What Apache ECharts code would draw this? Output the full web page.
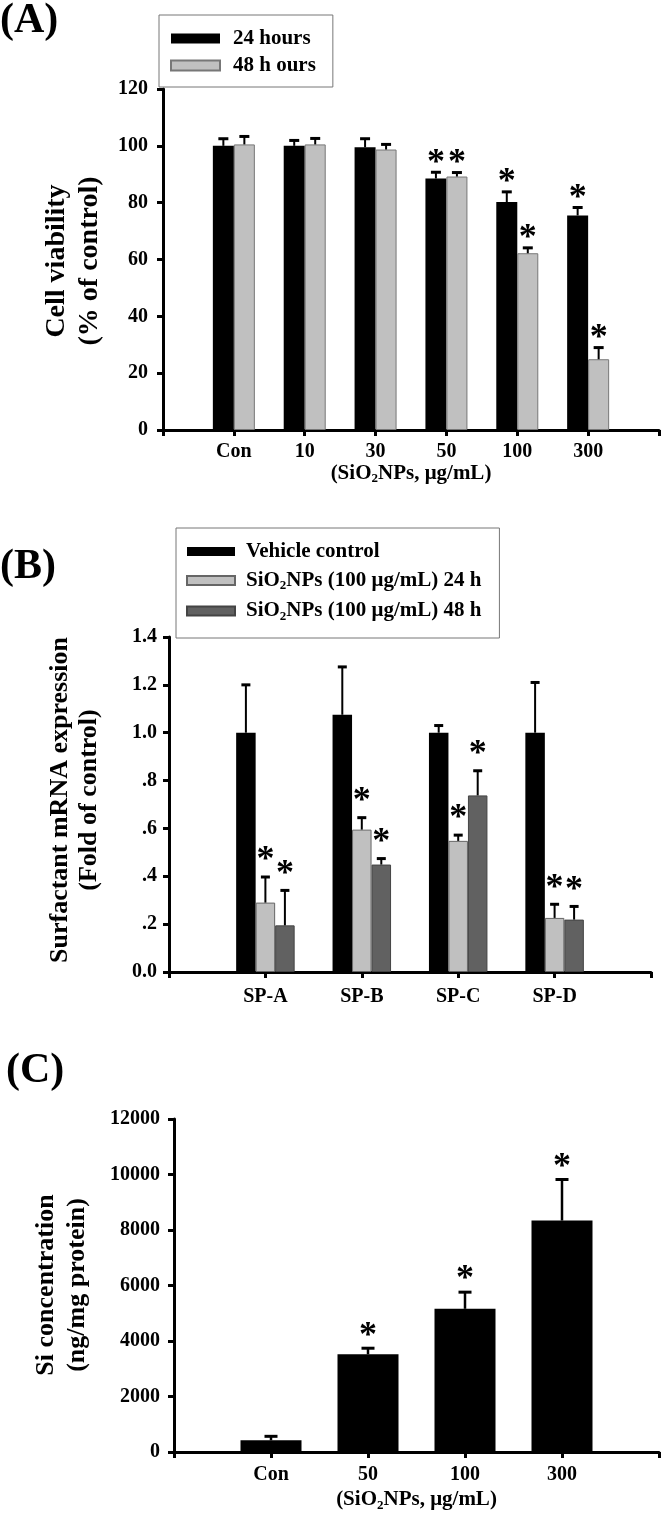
<!DOCTYPE html>
<html><head><meta charset="utf-8">
<script src="https://cdn.jsdelivr.net/npm/echarts@6/dist/echarts.min.js"></script>
<style>html,body{margin:0;padding:0;background:#fff}#c{width:664px;height:1528px}</style>
</head><body><div id="c"></div>
<script>
// ---------- Panel A: cell viability ----------
const catsA = ['', 'Con', '10', '30', '50', '100', '300', ''];
const viab24 = [null, 100, 100, 99.5, 88.5, 80.2, 75.5, null];
const viab24Err = [null, 2.5, 1.9, 3.0, 2.2, 3.6, 2.8, null];
const viab48 = [null, 100.5, 100.5, 98.7, 89.2, 62.2, 24.9, null];
const viab48Err = [null, 2.8, 2.1, 1.8, 1.4, 1.9, 4.1, null];
const sigA24 = [0, 0, 0, 0, 1, 1, 1, 0];
const sigA48 = [0, 0, 0, 0, 1, 1, 1, 0];

// ---------- Panel B: surfactant mRNA ----------
const catsB = ['', 'SP-A', 'SP-B', 'SP-C', 'SP-D', ''];
const vehicle = [null, 1.0, 1.075, 1.0, 1.0, null];
const vehicleErr = [null, 0.2, 0.2, 0.03, 0.21, null];
const np24 = [null, 0.29, 0.595, 0.548, 0.226, null];
const np24Err = [null, 0.107, 0.05, 0.024, 0.057, null];
const np48 = [null, 0.195, 0.449, 0.738, 0.219, null];
const np48Err = [null, 0.146, 0.025, 0.103, 0.055, null];
const sigBveh = [0, 0, 0, 0, 0, 0];
const sigB24 = [0, 1, 1, 1, 1, 0];
const sigB48 = [0, 1, 1, 1, 1, 0];
const ticksB = ['0.0', '.2', '.4', '.6', '.8', '1.0', '1.2', '1.4'];

// ---------- Panel C: Si concentration ----------
const catsC = ['', 'Con', '50', '100', '300', ''];
const siConc = [null, 420, 3520, 5160, 8340, null];
const siErr = [null, 145, 220, 600, 1480, null];
const sigC = [0, 0, 1, 1, 1, 0];

// ---------- styling ----------
const FF = '"Liberation Serif", "Times New Roman", serif';
const BLACK = '#000000', LIGHT = '#c0c0c0', DARK = '#616161';

function xAx(grid, cats, margin) {
  return {
    gridIndex: grid, type: 'category', data: cats, boundaryGap: false,
    axisLine: { show: true, lineStyle: { color: '#000', width: 3 } },
    axisTick: { show: true, length: 6, interval: 0, lineStyle: { color: '#000', width: 3 } },
    axisLabel: { interval: 0, color: '#000', fontFamily: FF, fontWeight: 'bold', fontSize: 20, margin: margin },
    splitLine: { show: false }
  };
}
function yAx(grid, max, interval, margin, fmt) {
  return {
    gridIndex: grid, type: 'value', min: 0, max: max, interval: interval,
    axisLine: { show: true, lineStyle: { color: '#000', width: 3 } },
    axisTick: { show: true, length: 6, lineStyle: { color: '#000', width: 3 } },
    axisLabel: { color: '#000', fontFamily: FF, fontWeight: 'bold', fontSize: 20, margin: margin, formatter: fmt },
    splitLine: { show: false }
  };
}
const plain = function (v) { return String(v); };
const richName = {
  t: { fontFamily: FF, fontWeight: 'bold', fontSize: 21, color: '#000' },
  s: { fontFamily: FF, fontWeight: 'bold', fontSize: 13, color: '#000', padding: [11, 0, 0, 0] }
};

function errSeries(name, grid, vals, errs, sigs, offset, capHalf, astOff, lw) {
  const data = [];
  vals.forEach((v, i) => { if (v !== null) data.push([i, v, errs[i], sigs[i]]); });
  return {
    type: 'custom', name: name + ' err', xAxisIndex: grid, yAxisIndex: grid, z: 5,
    silent: true, legendHoverLink: false,
    data: data,
    encode: { x: 0, y: 1 },
    renderItem: function (params, api) {
      const x = api.value(0), v = api.value(1), e = api.value(2), s = api.value(3);
      const p0 = api.coord([x, v]);
      const p1 = api.coord([x, v + e]);
      const cx = p0[0] + offset;
      const children = [
        { type: 'line', shape: { x1: cx, y1: p0[1], x2: cx, y2: p1[1] }, style: { stroke: '#000', lineWidth: lw } },
        { type: 'line', shape: { x1: cx - capHalf, y1: p1[1], x2: cx + capHalf, y2: p1[1] }, style: { stroke: '#000', lineWidth: 3 } }
      ];
      if (s) {
        children.push({ type: 'text', x: cx, y: p1[1] - astOff,
          style: { text: '*', fontFamily: FF, fontWeight: 'bold', fontSize: 36, fill: '#000',
                   align: 'center', verticalAlign: 'middle', textAlign: 'center', textVerticalAlign: 'middle' } });
      }
      return { type: 'group', children: children };
    }
  };
}

function barSeries(name, grid, vals, color, width, border) {
  return {
    type: 'bar', name: name, xAxisIndex: grid, yAxisIndex: grid, data: vals,
    barWidth: width, barGap: '0%', z: 2,
    itemStyle: { color: color, borderColor: border || color, borderWidth: border ? 1 : 0 },
    emphasis: { disabled: true }
  };
}

const option = {
  backgroundColor: '#fff',
  animation: false,
  grid: [
    { left: 163, top: 89, width: 496, height: 341 },
    { left: 169, top: 637, width: 482, height: 335 },
    { left: 174, top: 1119, width: 485, height: 333 }
  ],
  xAxis: [
    Object.assign(xAx(0, catsA, 12), {
      name: '{t|(SiO}{s|2}{t|NPs, μg/mL)}', nameLocation: 'middle', nameGap: 31,
      nameTextStyle: { rich: richName }
    }),
    xAx(1, catsB, 15),
    Object.assign(xAx(2, catsC, 13), {
      name: '{t|(SiO}{s|2}{t|NPs, μg/mL)}', nameLocation: 'middle', nameGap: 36,
      nameTextStyle: { rich: richName }
    })
  ],
  yAxis: [
    yAx(0, 120, 20, 15, plain),
    yAx(1, 1.4, 0.2, 12, function (v) { return ticksB[Math.round(v / 0.2)]; }),
    yAx(2, 12000, 2000, 14, plain)
  ],
  legend: [
    {
      data: ['24 hours', '48 h ours'], orient: 'vertical', left: 159, top: 15,
      padding: [13, 17, 11, 11], itemGap: 6, itemWidth: 49, itemHeight: 10, icon: 'rect',
      borderColor: '#777', borderWidth: 1, selectedMode: false,
      textStyle: { fontFamily: FF, fontWeight: 'bold', fontSize: 21, color: '#000', padding: [0, 0, 0, 8] }
    },
    {
      data: ['Vehicle control', 'SiO2NPs (100 μg/mL) 24 h', 'SiO2NPs (100 μg/mL) 48 h'],
      orient: 'vertical', left: 176, top: 528,
      padding: [13, 18, 15, 10], itemGap: 8, itemWidth: 48, itemHeight: 9, icon: 'rect',
      borderColor: '#777', borderWidth: 1, selectedMode: false,
      formatter: function (n) {
        if (n.indexOf('SiO2') === 0) return '{t|SiO}{s|2}{t|' + n.slice(4) + '}';
        return '{t|' + n + '}';
      },
      textStyle: { fontFamily: FF, fontWeight: 'bold', fontSize: 21, color: '#000', padding: [0, 0, 0, 6], rich: richName }
    }
  ],
  graphic: [
    { type: 'text', left: 0, top: 0, style: { text: '(A)', fontFamily: FF, fontWeight: 'bold', fontSize: 42, fill: '#000' } },
    { type: 'text', left: 0, top: 546, style: { text: '(B)', fontFamily: FF, fontWeight: 'bold', fontSize: 42, fill: '#000' } },
    { type: 'text', left: 6, top: 1050, style: { text: '(C)', fontFamily: FF, fontWeight: 'bold', fontSize: 42, fill: '#000' } },
    { type: 'text', x: 73, y: 261, rotation: Math.PI / 2,
      style: { text: 'Cell viability\n(% of control)', fontFamily: FF, fontWeight: 'bold', fontSize: 28, lineHeight: 33, fill: '#000',
               align: 'center', verticalAlign: 'middle', textAlign: 'center', textVerticalAlign: 'middle' } },
    { type: 'text', x: 75, y: 800, rotation: Math.PI / 2,
      style: { text: 'Surfactant mRNA expression\n(Fold of control)', fontFamily: FF, fontWeight: 'bold', fontSize: 26, lineHeight: 29, fill: '#000',
               align: 'center', verticalAlign: 'middle', textAlign: 'center', textVerticalAlign: 'middle' } },
    { type: 'text', x: 62, y: 1285, rotation: Math.PI / 2,
      style: { text: 'Si concentration\n(ng/mg protein)', fontFamily: FF, fontWeight: 'bold', fontSize: 26, lineHeight: 31, fill: '#000',
               align: 'center', verticalAlign: 'middle', textAlign: 'center', textVerticalAlign: 'middle' } }
  ],
  series: [
    barSeries('24 hours', 0, viab24, BLACK, 21),
    barSeries('48 h ours', 0, viab48, LIGHT, 21, '#777777'),
    errSeries('24 hours', 0, viab24, viab24Err, sigA24, -10.5, 5, 9, 2),
    errSeries('48 h ours', 0, viab48, viab48Err, sigA48, 10.5, 5, 9, 2),

    barSeries('Vehicle control', 1, vehicle, BLACK, 19.5),
    barSeries('SiO2NPs (100 μg/mL) 24 h', 1, np24, LIGHT, 19.5, '#666666'),
    barSeries('SiO2NPs (100 μg/mL) 48 h', 1, np48, DARK, 19.5, '#444444'),
    errSeries('Vehicle control', 1, vehicle, vehicleErr, sigBveh, -19.5, 4.5, 16, 2),
    errSeries('SiO2NPs (100 μg/mL) 24 h', 1, np24, np24Err, sigB24, 0, 4.5, 16, 2),
    errSeries('SiO2NPs (100 μg/mL) 48 h', 1, np48, np48Err, sigB48, 19.5, 4.5, 16, 2),

    barSeries('Si concentration', 2, siConc, BLACK, 61),
    errSeries('Si concentration', 2, siConc, siErr, sigC, 0, 6.5, 12, 2.5)
  ]
};
const chart = echarts.init(document.getElementById('c'), null, { renderer: 'canvas' });
chart.setOption(option);
</script>
</body></html>
